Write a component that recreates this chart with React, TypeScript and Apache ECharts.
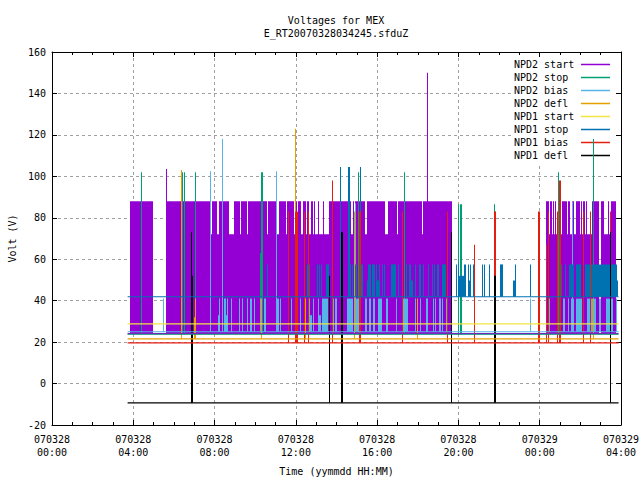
import React, { useEffect, useRef } from "react";
import * as echarts from "echarts";

const FONT = '"DejaVu Sans Mono", monospace';
const xTickDays = ["070328", "070328", "070328", "070328", "070328", "070328", "070329", "070329"];
const xTickTimes = ["00:00", "04:00", "08:00", "12:00", "16:00", "20:00", "00:00", "04:00"];
const traceStart = 3.72;
const traceEnd = 27.88;
const THIN = 0.05;

// [from hour, to hour, top volt]
const npd2StartSpans = [
  [3.82,4.95,88],[5.59,7.76,88],[7.86,8.10,88],[8.20,8.69,88],[8.94,9.23,88],[9.28,9.58,88],[9.63,10.27,88],[10.36,10.56,88],
  [10.61,11.05,88],[11.15,11.50,88],[11.55,11.69,88],[11.72,11.89,88],[11.94,12.04,88],[12.09,12.23,88],[12.33,12.48,88],
  [12.53,12.63,88],[12.73,12.82,88],[12.87,12.92,88],[13.07,13.12,88],[13.32,13.37,88],[13.61,14.69,88],[14.79,14.84,88],
  [14.89,15.38,88],[15.48,16.37,88],[16.51,16.96,88],[17.05,18.19,88],[18.24,19.66,88],[24.29,24.48,88],[24.53,24.58,88],
  [24.63,24.68,88],[24.73,24.78,88],[24.92,25.07,88],[25.12,25.32,88],[25.37,25.51,88],[25.61,25.71,88],[25.81,25.96,88],
  [26.01,26.06,88],[26.11,26.25,88],[26.30,26.35,88],[26.55,26.90,88],[27.00,27.14,88],[27.38,27.43,88],[27.53,27.73,88],
  [7.76,19.66,72],[24.29,26.90,72],[27.00,27.73,72],[5.59,5.64,103.5],[18.44,18.49,150],
];
const npd2StopSpans = [
  [10.27,10.37,102],[10.22,10.27,63],[20.10,20.20,86.5],
];
const npd2StopSpikes = [[4.36,102],[6.40,102],[6.49,102],[7.02,102],[15.04,102],[17.30,102],[19.96,86.5],[21.73,86.5],[24.91,102],[26.61,118]];
const npd2BiasSpans = [
  [5.45,5.49,41],[8.20,8.25,41],[8.45,8.54,41],[8.59,8.64,41],[8.79,8.84,41],[9.18,9.23,41],[9.33,9.38,41],[9.58,9.63,41],
  [9.72,9.82,41],[9.92,9.97,41],[10.22,10.27,41],[10.41,10.51,41],[11.0,11.15,41],[11.20,11.25,41],[8.15,8.25,33],[8.45,8.64,33],
  [11.74,11.79,41],[11.99,12.04,41],[12.18,12.23,41],[12.43,12.48,41],[12.63,12.68,41],[12.82,12.87,41],[13.07,13.12,41],
  [13.27,13.56,41],[13.81,13.86,41],[13.95,14.00,41],[14.50,14.55,41],[14.59,14.79,41],[14.84,15.14,41],[15.38,15.48,41],
  [15.58,15.68,41],[15.82,15.87,41],[16.02,16.22,41],[16.46,16.51,41],[16.91,17.00,41],[17.25,17.50,41],[17.84,17.89,41],
  [18.09,18.14,41],[18.38,18.48,41],[18.73,18.77,41],[18.87,18.92,41],[19.02,19.12,41],[19.17,19.22,41],[19.37,19.41,41],
  [12.63,12.77,33],[13.12,13.22,33],[16.07,16.22,33],[23.50,23.55,41],[24.33,24.38,41],[24.43,24.53,41],[24.83,24.92,41],
  [25.02,25.07,41],[25.17,25.22,41],[25.37,25.42,41],[25.56,25.71,41],[25.81,26.10,41],[26.35,26.79,41],[26.94,27.04,41],
  [27.24,27.63,41],[27.73,27.78,41],
];
const npd2BiasSpikes = [[7.78,102.5],[8.35,118],[11.0,102.5],[25.61,88],[14.89,87]];
const npd2DeflSpans = [[6.97,7.02,32],[7.02,7.07,41]];
const npd2DeflSpikes = [[6.36,103],[10.27,41],[11.96,123],[12.43,41],[14.84,83],[17.94,41],[21.82,83],[26.6,41]];
const npd1StopSpans = [
  [10.56,10.61,57.5],[12.53,12.58,57.5],[12.63,12.68,57.5],[13.02,13.07,57.5],[13.12,13.17,57.5],[13.22,13.27,57.5],[13.46,13.61,57.5],
  [14.64,14.69,57.5],[14.74,14.79,57.5],[14.89,14.99,57.5],[15.09,15.14,57.5],[15.23,15.28,57.5],[15.53,15.68,57.5],[15.73,15.87,57.5],
  [15.92,15.97,57.5],[16.07,16.12,57.5],[16.22,16.27,57.5],[16.36,16.41,57.5],[16.66,16.95,57.5],[17.05,17.10,57.5],[17.20,17.25,57.5],
  [17.40,17.45,57.5],[17.55,17.65,57.5],[17.84,17.89,57.5],[18.04,18.18,57.5],[18.28,18.33,57.5],[18.48,18.53,57.5],[18.68,18.73,57.5],
  [18.82,18.87,57.5],[18.97,19.02,57.5],[19.17,19.37,57.5],[19.46,19.51,57.5],[19.86,19.91,57.5],[19.96,20.05,57.5],
  [15.48,15.58,49.7],[15.97,16.07,49.7],[17.65,17.74,49.7],[18.09,18.18,49.7],
  [20.25,20.35,57.5],[20.45,20.50,57.5],[20.55,20.60,57.5],[20.74,20.79,57.5],[21.14,21.19,57.5],[21.28,21.33,57.5],[21.48,21.53,57.5],
  [22.07,22.17,57.5],[22.76,22.81,57.5],[23.50,23.55,57.5],[25.07,25.12,57.5],[25.22,25.27,57.5],[25.46,25.71,57.5],[25.81,26.05,57.5],
  [26.25,27.82,57.5],[20.05,20.25,52],[20.50,20.60,49.7],[22.71,22.76,49.7],[27.82,27.87,49.7],
];
const npd1StopSpikes = [[14.15,104.5],[14.59,104.5],[15.14,104.5]];
const npd1BiasSpans = [[11.94,12.09,83],[15.09,15.19,83],[21.73,21.87,83],[24.97,25.07,98]];
const npd1BiasSpikes = [[11.61,83],[12.38,83],[12.58,83],[13.76,98],[17.20,83],[19.46,83],[20.79,67],[23.94,83],[24.33,67],[24.43,83],[24.83,83],[26.11,83],[26.45,83],[27.48,83]];
const npd1DeflSpans = [[6.82,6.92,52],[14.20,14.30,73],[21.77,21.87,52]];
const npd1DeflSpikes = [[6.85,73],[13.61,52],[19.61,73],[27.44,73]];

const channels = [
  { name: "NPD2 start", color: "#9400d3", base: 24.1, spans: npd2StartSpans, spikes: [] as number[][] },
  { name: "NPD2 stop", color: "#009e73", base: 23.8, spans: npd2StopSpans, spikes: npd2StopSpikes },
  { name: "NPD2 bias", color: "#56b4e9", base: 25, spans: npd2BiasSpans, spikes: npd2BiasSpikes },
  { name: "NPD2 defl", color: "#e69f00", base: 21.6, spans: npd2DeflSpans, spikes: npd2DeflSpikes },
  { name: "NPD1 start", color: "#f0e442", base: 28.8, spans: [] as number[][], spikes: [] as number[][] },
  { name: "NPD1 stop", color: "#0072b2", base: 41.9, spans: npd1StopSpans, spikes: npd1StopSpikes },
  { name: "NPD1 bias", color: "#e51e10", base: 19.6, spans: npd1BiasSpans, spikes: npd1BiasSpikes },
  { name: "NPD1 defl", color: "#000000", base: -9.3, spans: npd1DeflSpans, spikes: npd1DeflSpikes },
];

const text = { fontFamily: FONT, fontSize: 10, color: "#000" };

export default function App() {
  const ref = useRef<HTMLDivElement>(null);
  useEffect(() => {
    document.body.style.margin = "0";
    const chart = echarts.init(ref.current!, undefined, { renderer: "svg" });
    const series: any[] = [];
    channels.forEach((c) => {
      const data = [...c.spans, ...c.spikes.map(([h, top]) => [h, h + THIN, top])];
      series.push({
        type: "custom",
        name: c.name + " pulses",
        data,
        silent: true,
        encode: { x: [0, 1], y: 2 },
        renderItem: (_: any, api: any) => {
          const a = api.coord([api.value(0), api.value(2)]);
          const b = api.coord([api.value(1), c.base]);
          const x0 = Math.round(a[0]);
          return {
            type: "rect",
            shape: { x: x0, y: a[1], width: Math.max(1, Math.round(b[0]) - x0), height: b[1] - a[1] },
            style: { fill: c.color },
          };
        },
      });
      series.push({
        type: "line",
        name: c.name,
        data: [[traceStart, c.base], [traceEnd, c.base]],
        symbol: "none",
        silent: true,
        lineStyle: { color: c.color, width: 1.2 },
        itemStyle: { color: c.color },
      });
    });
    const gridLine = { show: true, lineStyle: { color: "#a0a0a0", type: [3, 3], width: 1 } };
    const line = { show: true, onZero: false, lineStyle: { color: "#000", width: 1 } };
    const tick = { show: true, inside: true, length: 5, lineStyle: { color: "#000" } };
    const minor = { show: true, splitNumber: 4, length: 3, lineStyle: { color: "#000" } };
    chart.setOption({
      animation: false,
      backgroundColor: "#fff",
      title: {
        text: "Voltages for MEX\nE_RT20070328034245.sfduZ",
        left: 331,
        top: 9,
        textAlign: "center",
        textStyle: { ...text, fontWeight: "normal", lineHeight: 13 },
      },
      legend: {
        z: 1,
        orient: "vertical",
        left: 511,
        top: 57,
        padding: [1, 4, 1, 3],
        backgroundColor: "#fff",
        icon: "rect",
        align: "right",
        itemGap: 0,
        itemWidth: 29,
        itemHeight: 1.5,
        selectedMode: false,
        data: channels.map((c) => c.name),
        formatter: (n: string) => `{a|${n}}`,
        textStyle: { ...text, rich: { a: { ...text, width: 62, height: 13, align: "left", lineHeight: 13 } } },
      },
      grid: { left: 52, right: 19, top: 52, bottom: 55, outerBoundsMode: "none" },
      xAxis: [
        {
          type: "value",
          min: 0,
          max: 28,
          interval: 4,
          position: "bottom",
          name: "Time (yymmdd HH:MM)",
          nameLocation: "middle",
          nameGap: 41,
          nameTextStyle: text,
          axisLine: line,
          axisTick: tick,
          minorTick: minor,
          splitLine: gridLine,
          axisLabel: {
            ...text,
            margin: 8,
            lineHeight: 13,
            showMinLabel: true,
            showMaxLabel: true,
            hideOverlap: false,
            formatter: (v: number) => `${xTickDays[v / 4]}\n${xTickTimes[v / 4]}`,
          },
        },
        {
          type: "value",
          min: 0,
          max: 28,
          interval: 4,
          position: "top",
          axisLine: line,
          axisTick: tick,
          minorTick: minor,
          splitLine: { show: false },
          axisLabel: { show: false },
        },
      ],
      yAxis: [
        {
          type: "value",
          min: -20,
          max: 160,
          interval: 20,
          position: "left",
          name: "Volt (V)",
          nameLocation: "middle",
          nameGap: 35,
          nameRotate: 90,
          nameTextStyle: text,
          axisLine: line,
          axisTick: tick,
          splitLine: gridLine,
          axisLabel: { ...text, margin: 6 },
        },
        {
          type: "value",
          min: -20,
          max: 160,
          interval: 20,
          position: "right",
          axisLine: line,
          axisTick: tick,
          splitLine: { show: false },
          axisLabel: { show: false },
        },
      ],
      series,
    });
    return () => chart.dispose();
  }, []);
  return <div ref={ref} style={{ width: 640, height: 480 }} />;
}
